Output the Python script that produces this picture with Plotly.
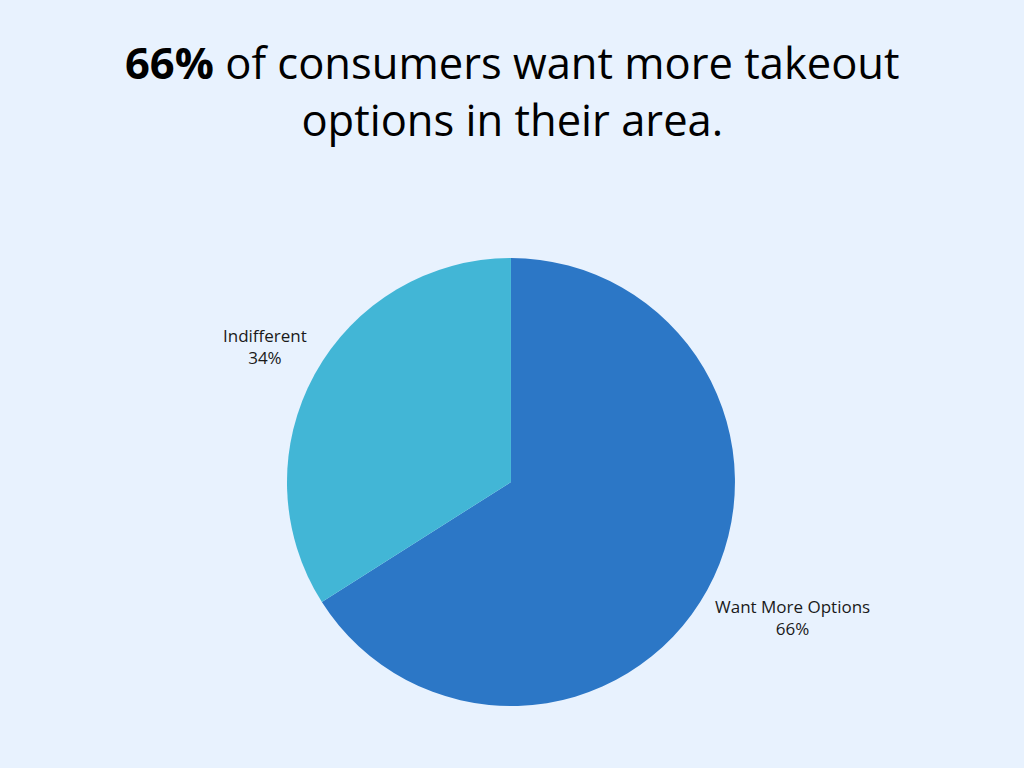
import math
import plotly.graph_objects as go

labels = ["Want More Options", "Indifferent"]
values = [66, 34]
colors = ["#2C77C6", "#42B6D6"]
title_text = "<b>66%</b> of consumers want more takeout<br>options in their area."

W, H = 1024, 768
dom_x = [0.28, 0.718]
dom_y = [0.0807, 0.664]

fig = go.Figure(go.Pie(
    labels=labels,
    values=values,
    sort=False,
    direction="clockwise",
    rotation=0,
    marker=dict(colors=colors, line=dict(width=0)),
    textinfo="none",
    showlegend=False,
    hoverinfo="label+percent",
    domain=dict(x=dom_x, y=dom_y),
))

# outside labels placed at each slice's mid-angle (derived from the values)
cx = (dom_x[0] + dom_x[1]) / 2
cy = (dom_y[0] + dom_y[1]) / 2
radius_px = min((dom_x[1] - dom_x[0]) * W, (dom_y[1] - dom_y[0]) * H) / 2
gap = 8
total = sum(values)
cum = 0
annotations = []
for lab, val in zip(labels, values):
    mid = (cum + val / 2) / total * 2 * math.pi
    cum += val
    dx, dy = math.sin(mid), math.cos(mid)
    R = radius_px + gap
    annotations.append(dict(
        text=f"{lab}<br>{round(100 * val / total)}%",
        x=cx + dx * R / W, y=cy + dy * R / H,
        xref="paper", yref="paper",
        xanchor="left" if dx > 0 else "right",
        yanchor="top" if dy < 0 else "bottom",
        align="center", showarrow=False, borderpad=0,
        font=dict(family="Open Sans", size=17, color="#1a1a1a"),
    ))

annotations.append(dict(
    text=title_text,
    x=0.5, xref="paper", xanchor="center",
    y=1 - 91 / H, yref="paper", yanchor="middle",
    showarrow=False,
    font=dict(family="Open Sans", size=43.5, color="#000000"),
))

fig.update_layout(
    width=W, height=H,
    margin=dict(l=0, r=0, t=0, b=0),
    paper_bgcolor="#E8F2FE",
    plot_bgcolor="#E8F2FE",
    annotations=annotations,
)

fig.write_html("out.html", config={"displayModeBar": False},
               post_script="document.body.style.margin='0';")
